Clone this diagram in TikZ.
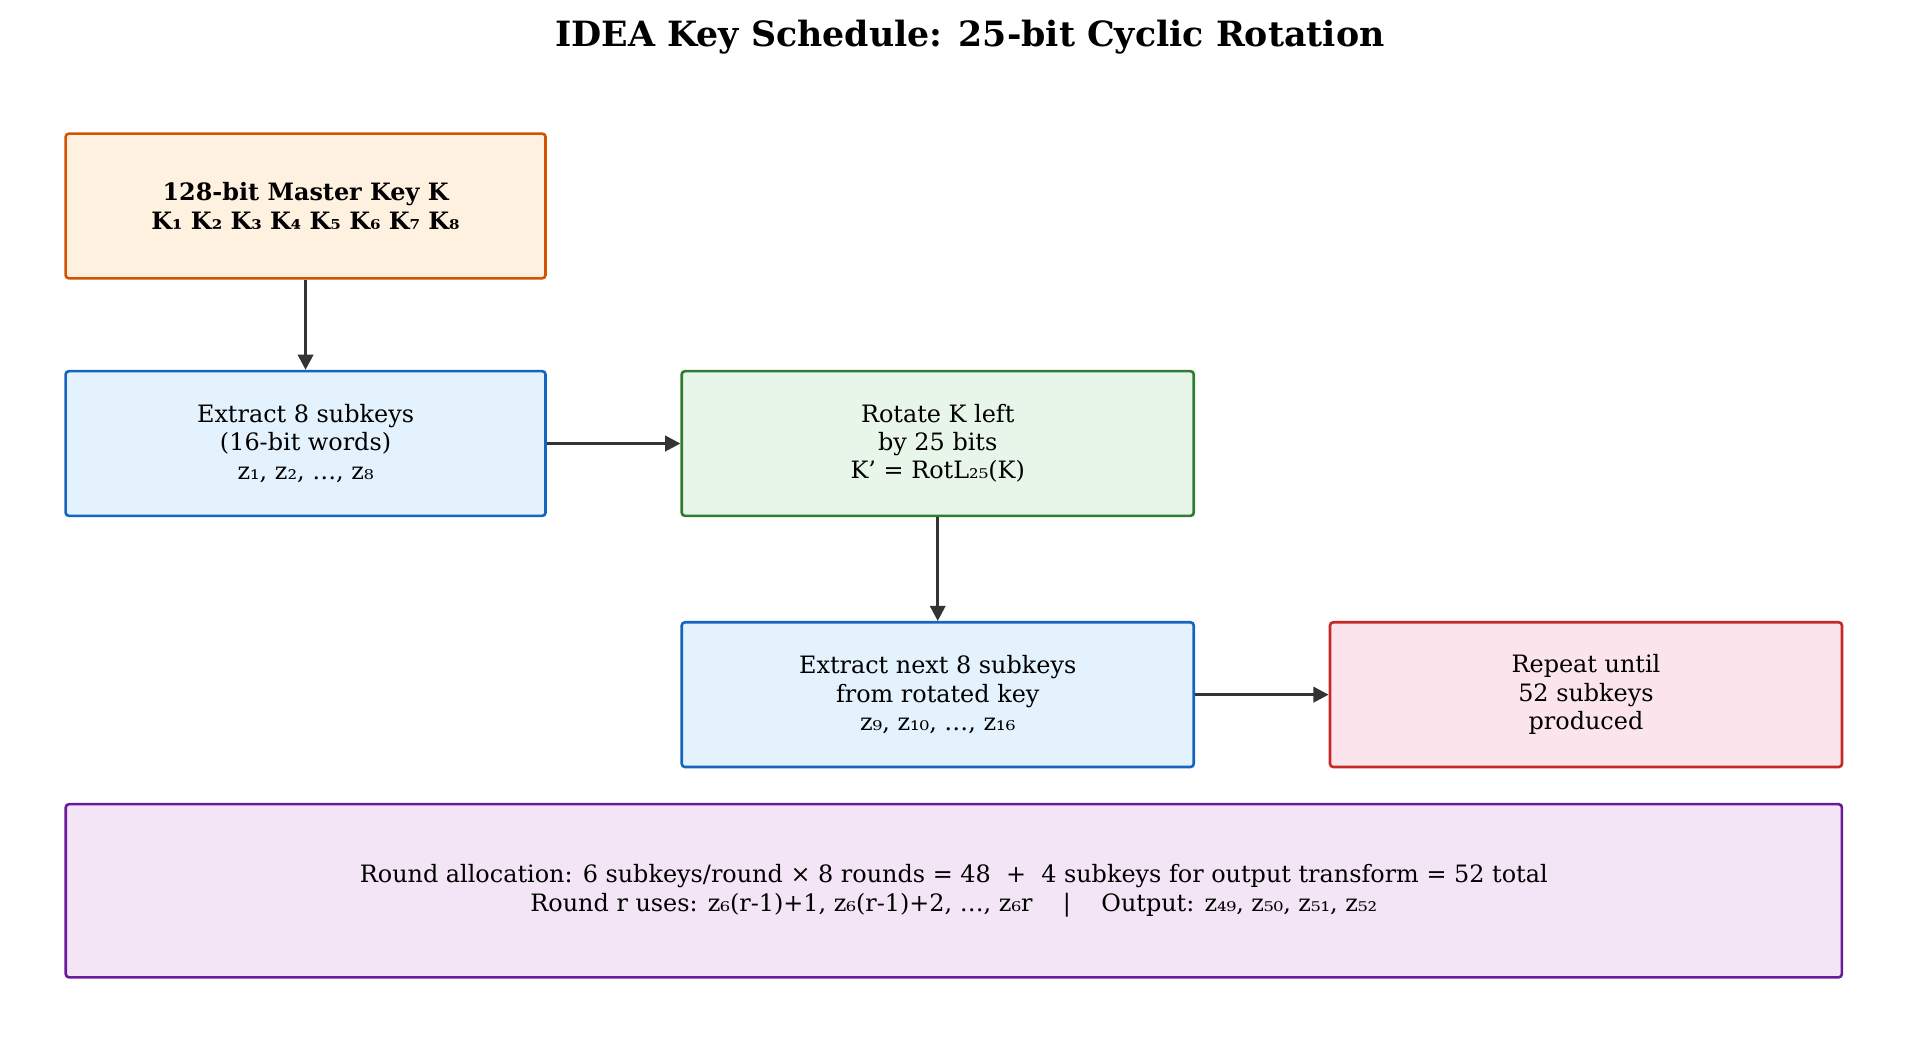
\documentclass[tikz,border=0pt]{standalone}
\usepackage{fontspec}
\setmainfont{DejaVu Serif}
\usetikzlibrary{arrows.meta}
\definecolor{orangeB}{HTML}{D35400}\definecolor{orangeF}{HTML}{FFF1DF}
\definecolor{blueB}{HTML}{1565C0}\definecolor{blueF}{HTML}{E3F2FD}
\definecolor{greenB}{HTML}{2E7D32}\definecolor{greenF}{HTML}{E8F5E9}
\definecolor{redB}{HTML}{C62828}\definecolor{redF}{HTML}{FCE4EC}
\definecolor{purpleB}{HTML}{6A1B9A}\definecolor{purpleF}{HTML}{F3E5F5}
\tikzset{
	box/.style={draw, line width=1.2pt, rounded corners=1.5pt, align=center,
		inner sep=0, font=\fontsize{11}{13}\selectfont},
	flow/.style={-{Triangle[length=7pt,width=7pt]}, line width=1.4pt, draw=black!80}
}
\begin{document}
\begin{tikzpicture}[x=0.02cm, y=-0.02cm]
	\useasboundingbox (0,0) rectangle (1552,853);

	\node[font=\fontsize{16}{19}\selectfont\bfseries] (title) at (784,30) {IDEA Key Schedule: 25-bit Cyclic Rotation};

	% key boxes
	\node[box, draw=orangeB, fill=orangeF, minimum width=7.76cm, minimum height=2.34cm,
		font=\fontsize{11}{13}\selectfont\bfseries] (master) at (247,166.5)
		{128-bit Master Key K\\K₁ K₂ K₃ K₄ K₅ K₆ K₇ K₈};
	\node[box, draw=blueB, fill=blueF, minimum width=7.76cm, minimum height=2.34cm] (extract) at (247,358.5)
		{Extract 8 subkeys\\(16-bit words)\\z₁, z₂, …, z₈};
	\node[box, draw=greenB, fill=greenF, minimum width=8.28cm, minimum height=2.34cm] (rotate) at (758,358.5)
		{Rotate K left\\by 25 bits\\K' = RotL₂₅(K)};
	\node[box, draw=blueB, fill=blueF, minimum width=8.28cm, minimum height=2.34cm] (next) at (758,561.5)
		{Extract next 8 subkeys\\from rotated key\\z₉, z₁₀, …, z₁₆};
	\node[box, draw=redB, fill=redF, minimum width=8.28cm, minimum height=2.34cm] (repeat) at (1282,561.5)
		{Repeat until\\52 subkeys\\produced};
	\node[box, draw=purpleB, fill=purpleF, minimum width=28.72cm, minimum height=2.8cm] (alloc) at (771,720)
		{Round allocation: 6 subkeys/round × 8 rounds = 48~~+~~4 subkeys for output transform = 52 total\\
		Round r uses: z₆(r-1)+1, z₆(r-1)+2, …, z₆r~~~~|~~~~Output: z₄₉, z₅₀, z₅₁, z₅₂};

	\draw[flow] (master) -- (extract);
	\draw[flow] (extract) -- (rotate);
	\draw[flow] (rotate) -- (next);
	\draw[flow] (next) -- (repeat);
\end{tikzpicture}
\end{document}
